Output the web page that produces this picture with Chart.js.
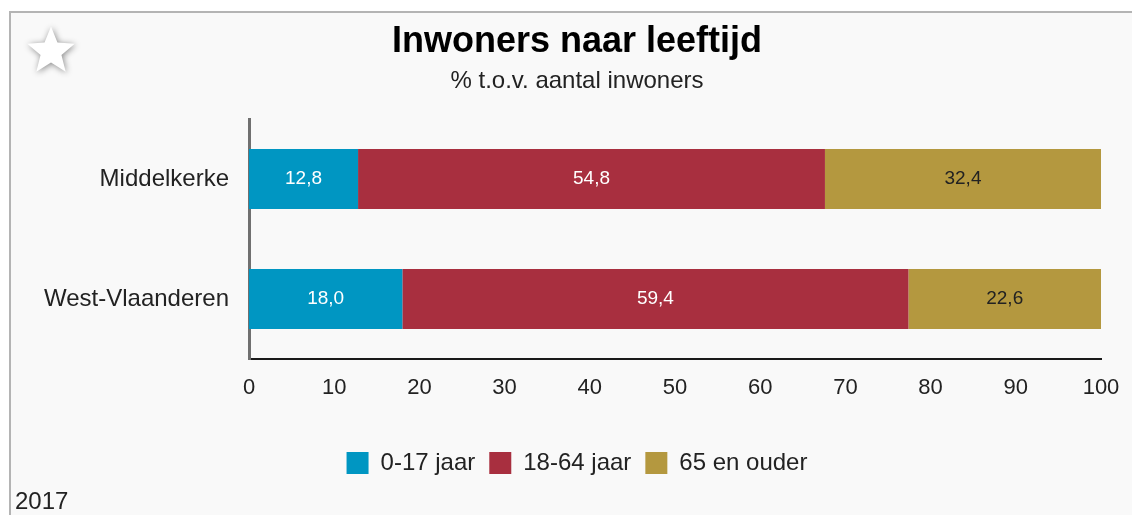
<!DOCTYPE html>
<html>
<head>
<meta charset="utf-8">
<script src="https://cdn.jsdelivr.net/npm/chart.js@4/dist/chart.umd.min.js"></script>
<style>
  html, body { margin: 0; padding: 0; background: #ffffff; }
  #wrap { position: relative; width: 1132px; height: 515px; }
  canvas { display: block; }
</style>
</head>
<body>
<div id="wrap"><canvas id="c" width="1132" height="515"></canvas></div>
<script>
const categories = ['Middelkerke', 'West-Vlaanderen'];
const seriesNames = ['0-17 jaar', '18-64 jaar', '65 en ouder'];
const young = [12.8, 18.0];
const adults = [54.8, 59.4];
const elderly = [32.4, 22.6];
const xTicks = [0, 10, 20, 30, 40, 50, 60, 70, 80, 90, 100];
const yearLabel = '2017';
const titleText = 'Inwoners naar leeftijd';
const subtitleText = '% t.o.v. aantal inwoners';

const FONT = "'Liberation Sans', Arial, sans-serif";
const colors = ['#0096c2', '#a82f3f', '#b4983f'];
const labelColors = ['#ffffff', '#ffffff', '#222222'];

const framePlugin = {
  id: 'frame',
  beforeDraw(chart) {
    const ctx = chart.ctx;
    ctx.save();
    ctx.fillStyle = '#f9f9f9';
    ctx.fillRect(10, 12, chart.width, chart.height);
    ctx.strokeStyle = '#b4b4b4';
    ctx.lineWidth = 2;
    ctx.beginPath();
    ctx.moveTo(10, chart.height + 5);
    ctx.lineTo(10, 12);
    ctx.lineTo(chart.width + 5, 12);
    ctx.stroke();
    // star
    const cx = 51, cy = 51.5, R = 25, r = 11;
    ctx.beginPath();
    for (let i = 0; i < 10; i++) {
      const rad = i % 2 === 0 ? R : r;
      const a = -Math.PI / 2 + i * Math.PI / 5;
      const px = cx + rad * Math.cos(a), py = cy + rad * Math.sin(a);
      if (i === 0) ctx.moveTo(px, py); else ctx.lineTo(px, py);
    }
    ctx.closePath();
    ctx.shadowColor = 'rgba(0,0,0,0.45)';
    ctx.shadowBlur = 6;
    ctx.shadowOffsetX = 1;
    ctx.shadowOffsetY = 1;
    ctx.fillStyle = '#ffffff';
    ctx.fill();
    ctx.restore();
  },
  afterDraw(chart) {
    const ctx = chart.ctx;
    ctx.save();
    ctx.font = '24px ' + FONT;
    ctx.fillStyle = '#222222';
    ctx.textAlign = 'left';
    ctx.textBaseline = 'middle';
    ctx.fillText(yearLabel, 15, 502);
    ctx.restore();
  }
};

const valueLabels = {
  id: 'valueLabels',
  afterDatasetsDraw(chart) {
    const ctx = chart.ctx;
    ctx.save();
    ctx.font = '19px ' + FONT;
    ctx.textAlign = 'center';
    ctx.textBaseline = 'middle';
    chart.data.datasets.forEach((ds, di) => {
      const meta = chart.getDatasetMeta(di);
      meta.data.forEach((el, i) => {
        const v = ds.data[i];
        ctx.fillStyle = labelColors[di];
        ctx.fillText(v.toFixed(1).replace('.', ','), (el.x + el.base) / 2, el.y);
      });
    });
    ctx.restore();
  }
};

new Chart(document.getElementById('c'), {
  type: 'bar',
  data: {
    labels: categories,
    datasets: [
      { label: seriesNames[0], data: young, backgroundColor: colors[0] },
      { label: seriesNames[1], data: adults, backgroundColor: colors[1] },
      { label: seriesNames[2], data: elderly, backgroundColor: colors[2] }
    ]
  },
  options: {
    indexAxis: 'y',
    responsive: false,
    animation: false,
    devicePixelRatio: 1,
    layout: { padding: { top: 14, left: 40, right: 18, bottom: 30 } },
    datasets: { bar: { barPercentage: 0.5, categoryPercentage: 1.0 } },
    scales: {
      x: {
        stacked: true,
        min: 0,
        max: 100,
        afterBuildTicks(scale) { scale.ticks = xTicks.map(v => ({ value: v })); },
        grid: { display: false, drawTicks: false },
        border: { display: true, color: '#1a1a1a', width: 2 },
        ticks: { font: { size: 22, family: FONT }, color: '#222222', padding: 16 },
        afterFit(scale) { scale.height = 78; scale.paddingLeft = 0; scale.paddingRight = 0; }
      },
      y: {
        stacked: true,
        grid: { display: false, drawTicks: false },
        border: { display: true, color: '#707070', width: 3 },
        ticks: { font: { size: 24, family: FONT }, color: '#222222', padding: 20 },
        afterFit(scale) { scale.width = 209; }
      },
      yRight: {
        type: 'category',
        position: 'right',
        grid: { display: false, drawTicks: false },
        border: { display: false },
        ticks: { display: false },
        afterFit(scale) { scale.width = 13; }
      }
    },
    plugins: {
      title: {
        display: true,
        text: titleText,
        color: '#000000',
        font: { size: 36, weight: 'bold', family: FONT, lineHeight: 1.2 },
        padding: { top: 6, bottom: 0 }
      },
      subtitle: {
        display: true,
        text: subtitleText,
        color: '#222222',
        font: { size: 24, family: FONT, lineHeight: 1.2 },
        padding: { top: 4, bottom: 23 }
      },
      legend: {
        position: 'bottom',
        labels: {
          boxWidth: 22,
          boxHeight: 22,
          padding: 14,
          color: '#222222',
          font: { size: 24, family: FONT }
        }
      },
      tooltip: { enabled: false }
    }
  },
  plugins: [framePlugin, valueLabels]
});
</script>
</body>
</html>
